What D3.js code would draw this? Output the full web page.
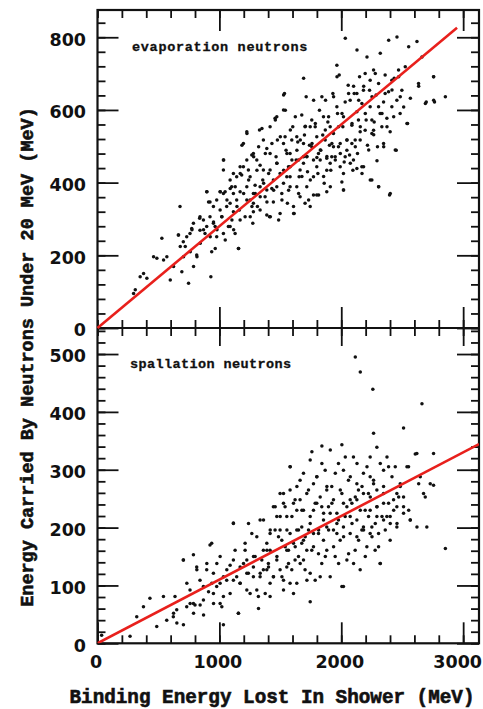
<!DOCTYPE html>
<html>
<head>
<meta charset="utf-8">
<script src="https://cdn.jsdelivr.net/npm/d3@7/dist/d3.min.js"></script>
<style>
  html, body { margin: 0; padding: 0; background: #fff; }
  svg { display: block; }
</style>
</head>
<body>
<svg id="chart" width="483" height="709"></svg>
<script>
// Binding energy lost in shower (MeV) vs energy carried by neutrons under 20 MeV (MeV)
const evaporation = [
  [296,95],[310,105],[350,141],[378,150],[405,137],[460,196],[487,192],[528,247],[542,187],[569,196],
  [597,132],[624,169],[665,256],[679,224],[692,155],[706,196],[720,224],[747,123],[761,210],[775,270],
  [788,169],[816,196],[838,302],[843,233],[870,270],[898,375],[911,347],[925,251],[930,141],[952,292],
  [966,219],[980,270],[1007,375],[1021,306],[1035,462],[1048,242],[1062,352],[1089,384],[1103,297],[1117,270],
  [1130,389],[1144,334],[1158,219],[1171,425],[1185,503],[1199,370],[1226,535],[1240,407],[1253,306],[1267,334],
  [1281,471],[1294,370],[1308,434],[1322,499],[1335,361],[1349,549],[1363,398],[1377,480],[1390,347],[1404,425],
  [1418,306],[1431,508],[1445,379],[1459,572],[1472,453],[1486,297],[1500,526],[1513,352],[1527,641],[1527,434],
  [1541,599],[1554,480],[1568,379],[1582,545],[1595,462],[1609,315],[1623,581],[1636,489],[1650,370],[1664,517],
  [1677,417],[1691,687],[1705,555],[1718,472],[1732,352],[1746,407],[1760,508],[1773,627],[1787,563],[1800,469],
  [1814,366],[1828,490],[1841,636],[1855,417],[1869,545],[1882,472],[1896,581],[1910,389],[1923,508],[1937,636],
  [1951,462],[1965,691],[1978,554],[1992,480],[2006,590],[2019,380],[2033,797],[2047,517],[2060,645],[2074,453],
  [2088,563],[2101,665],[2115,499],[2129,765],[2143,627],[2156,554],[2170,425],[2184,665],[2197,590],[2211,746],
  [2225,490],[2238,407],[2252,636],[2266,532],[2279,700],[2293,460],[2307,389],[2320,756],[2334,590],[2348,499],
  [2375,554],[2389,792],[2402,370],[2416,655],[2430,581],[2443,490],[2457,801],[2471,691],[2484,636],[2512,608],
  [2539,563],[2553,774],[2567,632],[2621,788],[2635,665],[2662,746],[2690,618],[2758,691],[2758,627],[2854,636],
  [677,334],[663,256],[704,237],[773,274],[814,201],[841,306],[882,260],[896,375],[923,347],[937,210],
  [965,279],[1006,375],[1019,306],[1033,462],[1033,435],[1047,375],[1074,279],[1088,343],[1101,389],[1115,320],
  [1129,260],[1156,219],[1170,375],[1183,421],[1197,508],[1211,306],[1225,540],[1238,435],[1252,352],[1266,476],
  [1274,288],[1293,393],[1312,334],[1329,545],[1334,448],[1356,407],[1375,361],[1389,494],[1411,306],[1416,435],
  [1430,384],[1443,347],[1457,577],[1465,471],[1476,517],[1498,425],[1512,370],[1526,600],[1534,645],[1547,489],
  [1558,343],[1567,444],[1580,389],[1602,554],[1613,315],[1630,462],[1643,512],[1654,416],[1662,361],[1676,586],
  [1690,471],[1698,531],[1712,636],[1717,389],[1723,430],[1739,503],[1745,334],[1758,572],[1772,462],[1786,554],
  [1799,366],[1808,425],[1821,599],[1832,489],[1848,531],[1860,398],[1871,627],[1881,467],[1890,567],[1903,503],
  [1914,434],[1931,645],[1936,535],[1950,471],[1964,723],[1969,590],[1983,696],[1991,508],[2005,402],[2013,554],
  [2024,457],[2032,622],[2046,517],[2057,668],[2068,476],[2087,558],[2095,434],[2106,645],[2114,517],[2128,595],
  [2133,480],[2150,691],[2155,540],[2169,618],[2183,444],[2196,700],[2204,572],[2215,503],[2232,654],[2237,609],
  [2251,535],[2265,710],[2270,567],[2286,641],[2297,499],[2306,673],[2319,590],[2333,554],[2347,622],[2360,696],
  [2374,577],[2388,650],[2401,540],[2415,609],[2434,687],[2451,489],[2456,627],[2483,590],[2497,654],[2525,719],
  [2544,563],[2634,673],[2697,622],[2757,691],[2765,622],[2251,407],[2306,389],[2396,366],[2018,380],[1881,375],
  [1772,366],[2169,444],[2128,439],[1498,315],[1389,311],[1279,320],[1164,325],[1608,334],[1703,343],
  [1142,416],[1197,444],[1252,416],[1307,462],[1361,435],[1416,480],[1471,453],[1526,508],[1580,480],[1635,526],
  [1690,508],[1745,554],[1799,526],[1854,581],[1909,554],[1964,609],[2018,581],[2073,627],[2128,645],[2182,654],
  [2237,682],[1553,416],[1717,471],[1827,462],[1936,499],[2046,489],[2155,517],[2265,544],[2347,508],[1088,407],
  [1033,370],[978,352],[923,306],[869,297],[787,288],[732,251],[951,334],[1334,389],[1443,407],[1279,370],
  [1225,389],[1580,444],[1662,435],[1772,416],[1881,434],[1991,444],[2100,462],
  [1539,526],[1594,517],[1649,462],[1703,554],[1758,499],[1813,480],[1868,517],[1922,471],[1977,499],[2032,471],
  [2087,508],[2141,572],[2196,544],[2251,572],[2306,609],[2360,645],[2415,682],[2470,710],[1389,380],[1471,389],
  [1526,398],[1580,416],[1635,389],[1690,453],[1799,444],[1909,453],[2018,425],[1225,352],[1279,343],[1334,325],
  [1142,352],[1115,370],[1060,334],[1006,325],[951,288],[896,279],[841,269],[759,260],[1170,297],[1088,279],
  [1033,260],[978,251],[1416,554],[1361,517],[1471,581],[1279,480],[1225,462],[1170,444],[1115,425]
];

const spallation = [
  [2115,495],[2156,469],[2259,439],[2662,414],[2511,372],[2265,363],[2292,339],[2757,328],[2607,327],[2005,343],
  [1841,341],[2033,322],[2757,273],[2689,253],[2621,201],[2854,164],[2320,138],[1745,72],[1608,86],[2005,98],
  [1115,208],[705,144],[937,173],
  [34,14],[267,12],[322,46],[377,63],[430,78],[486,29],[541,81],[568,40],[624,52],[651,35],
  [705,32],[733,104],[760,69],[788,52],[815,127],[842,66],[870,49],[897,138],[911,89],[938,104],
  [952,69],[979,138],[1006,104],[1020,63],[1033,32],[1061,127],[1088,86],[1115,144],[1129,161],[1156,52],
  [1170,104],[1198,138],[1211,173],[1225,121],[1239,207],[1252,86],[1280,150],[1307,184],[1321,60],[1335,121],
  [1362,213],[1376,86],[1390,161],[1403,132],[1417,196],[1444,115],[1458,236],[1472,150],[1485,184],[1499,219],
  [1513,115],[1526,259],[1540,167],[1554,196],[1567,138],[1581,305],[1595,219],[1608,242],[1622,167],[1636,271],
  [1649,196],[1663,138],[1677,230],[1690,294],[1704,184],[1718,109],[1731,265],[1745,219],[1759,331],[1772,167],
  [1786,242],[1800,288],[1814,196],[1827,115],[1841,311],[1855,225],[1869,150],[1882,271],[1896,196],[1910,334],
  [1923,242],[1937,167],[1951,294],[1964,207],[1978,138],[1992,265],[2019,184],[2046,236],[2060,155],[2074,288],
  [2088,207],[2101,138],[2115,253],[2129,311],[2142,178],[2156,230],[2170,271],[2183,196],[2197,150],[2211,305],
  [2224,219],[2238,253],[2252,184],[2265,282],[2279,207],[2293,236],[2306,167],[2320,311],[2334,219],[2347,271],
  [2361,196],[2375,322],[2388,242],[2402,207],[2416,288],[2430,230],[2443,305],[2457,207],[2471,253],[2484,271],
  [2511,236],[2539,305],[2553,230],[2566,213],[2635,276],[2648,288],
  [704,144],[787,153],[923,170],[1115,207],[636,81],[622,46],[800,66],[869,98],[951,121],[1006,150],
  [1033,81],[1088,135],[1156,52],[1170,104],[1211,161],[1238,121],[1266,190],[1293,150],[1320,81],[1334,213],
  [1361,127],[1389,173],[1416,104],[1443,236],[1457,196],[1471,144],[1498,259],[1512,178],[1526,109],[1553,219],
  [1567,161],[1580,305],[1594,127],[1621,248],[1635,196],[1649,150],[1662,282],[1676,173],[1690,230],[1703,127],
  [1717,259],[1731,196],[1745,317],[1758,161],[1772,230],[1786,109],[1799,288],[1813,190],[1827,253],[1840,138],
  [1854,213],[1868,299],[1881,161],[1895,236],[1909,115],[1922,271],[1936,196],[1950,150],[1964,225],[1977,311],
  [1991,178],[2005,259],[2018,98],[2032,219],[2046,144],[2059,282],[2073,190],[2087,242],[2100,322],[2114,161],
  [2128,213],[2141,265],[2155,127],[2169,196],[2182,294],[2196,230],[2210,167],[2223,259],[2237,322],[2251,201],
  [2265,276],[2278,161],[2292,236],[2306,190],[2319,138],[2347,259],[2374,219],[2388,305],[2401,178],[2429,248],
  [2456,201],[2484,276],[2511,225],[2552,305],[2566,213],[2620,328],[2675,259],[2702,201],[2730,276],
  [1416,190],[1471,219],[1539,236],[1608,173],[1676,201],[1717,161],[1772,190],[1840,236],[1881,201],[1936,248],
  [1977,213],[2018,242],[2073,219],[2128,248],[2182,201],[2237,230],[2292,265],[2347,213],[1279,115],[1348,144],
  [1402,138],[1553,132],[1621,144],[1690,144],[1745,121],[1813,155],[1635,104],[1526,92],[1389,127],[1225,92],
  [1142,115],[1060,109],[978,98],[896,127],[841,109],[759,92],[814,132],
  [1361,161],[1416,161],[1498,196],[1580,190],[1635,230],[1690,178],[1745,207],[1799,242],[1854,178],[1909,225],
  [1964,190],[2018,201],[2073,248],[2128,184],[2182,259],[2237,190],[2292,219],[2347,242],[2401,219],[2456,236],
  [2511,253],[1279,132],[1334,115],[1443,115],[1498,127],[1580,104],[1225,144],[1170,132],[1115,109],[1033,115],
  [951,86],[869,75],[787,69],[732,63],[650,58],[1006,69],[1307,92],[1416,81],[1553,161],[1881,265],
  [1772,276],[1662,248],[1580,265],[1526,242],[2018,299],[2128,276],[2237,288],[2347,299],[2456,259]
];

// Least-squares fit slopes (MeV per MeV) and tick values
const evapSlope = 0.28;
const evapLineEnd = 2950;
const spallSlope = 0.11;
const xTicks = [0, 1000, 2000, 3000];
const evapTicks = [0, 200, 400, 600, 800];
const spallTicks = [0, 100, 200, 300, 400, 500];

const xMax = 3130, evapMax = 875, spallMax = 545;
const L = 97.5, R = 479, T1 = 10, MID = 328, B2 = 643.3;

const svg = d3.select("#chart");
const x = d3.scaleLinear().domain([0, xMax]).range([L, R]);
const yE = d3.scaleLinear().domain([0, evapMax]).range([MID, T1]);
const yS = d3.scaleLinear().domain([0, spallMax]).range([B2, MID]);
const fmt = d3.format("d");

const numFont = "'DejaVu Sans', sans-serif";
const titleFont = "'Liberation Mono', 'Courier New', monospace";

svg.append("defs").append("clipPath").attr("id", "clipS")
  .append("rect").attr("x", L).attr("y", MID).attr("width", R - L).attr("height", B2 - MID);

function styleAxis(g, withLabels) {
  g.select(".domain").remove();
  g.selectAll(".tick line").attr("stroke", "#111").attr("stroke-width", 1.8);
  g.selectAll(".tick text")
    .attr("font-family", numFont).attr("font-weight", "bold")
    .attr("font-size", 17.5).attr("fill", "#111");
  if (!withLabels) g.selectAll(".tick text").remove();
}

function drawAxes(y, majorTicks, minorStep, yMax, top, bottom, topTall) {
  const minorY = d3.range(0, yMax + 0.001, minorStep);
  const minorX = d3.range(0, xMax, 200);
  // left
  svg.append("g").attr("transform", `translate(${L},0)`)
    .call(d3.axisLeft(y).tickValues(minorY).tickSize(-8).tickFormat(""))
    .call(g => styleAxis(g, false));
  svg.append("g").attr("transform", `translate(${L},0)`)
    .call(d3.axisLeft(y).tickValues(majorTicks).tickSize(-21).tickPadding(11.5).tickFormat(fmt))
    .call(g => styleAxis(g, true))
    .call(g => g.selectAll(".tick text").attr("dy", "0.45em"));
  // right
  svg.append("g").attr("transform", `translate(${R},0)`)
    .call(d3.axisRight(y).tickValues(minorY).tickSize(-8).tickFormat(""))
    .call(g => styleAxis(g, false));
  svg.append("g").attr("transform", `translate(${R},0)`)
    .call(d3.axisRight(y).tickValues(majorTicks).tickSize(-22).tickFormat(""))
    .call(g => styleAxis(g, false));
  // top edge, ticks pointing down
  svg.append("g").attr("transform", `translate(0,${top})`)
    .call(d3.axisTop(x).tickValues(minorX).tickSize(-8).tickFormat(""))
    .call(g => styleAxis(g, false));
  svg.append("g").attr("transform", `translate(0,${top})`)
    .call(d3.axisTop(x).tickValues(xTicks.slice(1)).tickSize(-topTall).tickFormat(""))
    .call(g => styleAxis(g, false));
  // bottom edge, ticks pointing up
  svg.append("g").attr("transform", `translate(0,${bottom})`)
    .call(d3.axisBottom(x).tickValues(minorX).tickSize(-8).tickFormat(""))
    .call(g => styleAxis(g, false));
}

// upper panel: evaporation neutrons
drawAxes(yE, evapTicks, 40, evapMax, T1, MID, 21);
svg.append("g").attr("transform", `translate(0,${MID})`)
  .call(d3.axisBottom(x).tickValues(xTicks.slice(1)).tickSize(-21).tickFormat(""))
  .call(g => styleAxis(g, false));

// lower panel: spallation neutrons
drawAxes(yS, spallTicks, 20, spallMax, MID, B2, 18);
svg.append("g").attr("transform", `translate(0,${B2})`)
  .call(d3.axisBottom(x).tickValues(xTicks).tickSize(-21).tickPadding(12).tickFormat(fmt))
  .call(g => styleAxis(g, true))
  .call(g => g.selectAll(".tick text").attr("dy", "0.72em")
    .attr("dx", d => d === 3000 ? -6 : -2));

// frames
svg.append("rect").attr("x", L).attr("y", T1).attr("width", R - L).attr("height", B2 - T1)
  .attr("fill", "none").attr("stroke", "#111").attr("stroke-width", 2.2);
svg.append("line").attr("x1", L).attr("x2", R).attr("y1", MID).attr("y2", MID)
  .attr("stroke", "#111").attr("stroke-width", 2.2);

// points
svg.append("g").selectAll("circle").data(evaporation).join("circle")
  .attr("cx", d => x(d[0])).attr("cy", d => yE(d[1])).attr("r", 1.75).attr("fill", "#111");
svg.append("g").selectAll("circle").data(spallation).join("circle")
  .attr("cx", d => x(d[0])).attr("cy", d => yS(d[1])).attr("r", 1.75).attr("fill", "#111");

// fit lines
svg.append("line")
  .attr("x1", x(0)).attr("y1", yE(0))
  .attr("x2", x(evapLineEnd)).attr("y2", yE(evapSlope * evapLineEnd))
  .attr("stroke", "#e8201c").attr("stroke-width", 2.6);
svg.append("line").attr("clip-path", "url(#clipS)")
  .attr("x1", x(0)).attr("y1", yS(0))
  .attr("x2", x(xMax)).attr("y2", yS(spallSlope * xMax))
  .attr("stroke", "#e8201c").attr("stroke-width", 2.6);

// panel labels
svg.append("text").attr("x", 132).attr("y", 51)
  .attr("font-family", titleFont).attr("font-weight", "bold").attr("font-size", 13.5)
  .attr("letter-spacing", 0.7).attr("stroke", "#111").attr("stroke-width", 0.3)
  .attr("fill", "#111").text("evaporation neutrons");
svg.append("text").attr("x", 130).attr("y", 368)
  .attr("font-family", titleFont).attr("font-weight", "bold").attr("font-size", 13.5)
  .attr("letter-spacing", 0.4).attr("stroke", "#111").attr("stroke-width", 0.3)
  .attr("fill", "#111").text("spallation neutrons");

// axis titles
svg.append("text").attr("x", 272).attr("y", 703).attr("text-anchor", "middle")
  .attr("font-family", titleFont).attr("font-weight", "bold").attr("font-size", 19.3)
  .attr("stroke", "#111").attr("stroke-width", 0.6).attr("fill", "#111")
  .text("Binding Energy Lost In Shower (MeV)");
svg.append("text").attr("transform", "translate(33,357) rotate(-90)").attr("text-anchor", "middle")
  .attr("font-family", titleFont).attr("font-weight", "bold").attr("font-size", 18.5)
  .attr("stroke", "#111").attr("stroke-width", 0.6).attr("fill", "#111")
  .text("Energy Carried By Neutrons Under 20 MeV (MeV)");
</script>
</body>
</html>
